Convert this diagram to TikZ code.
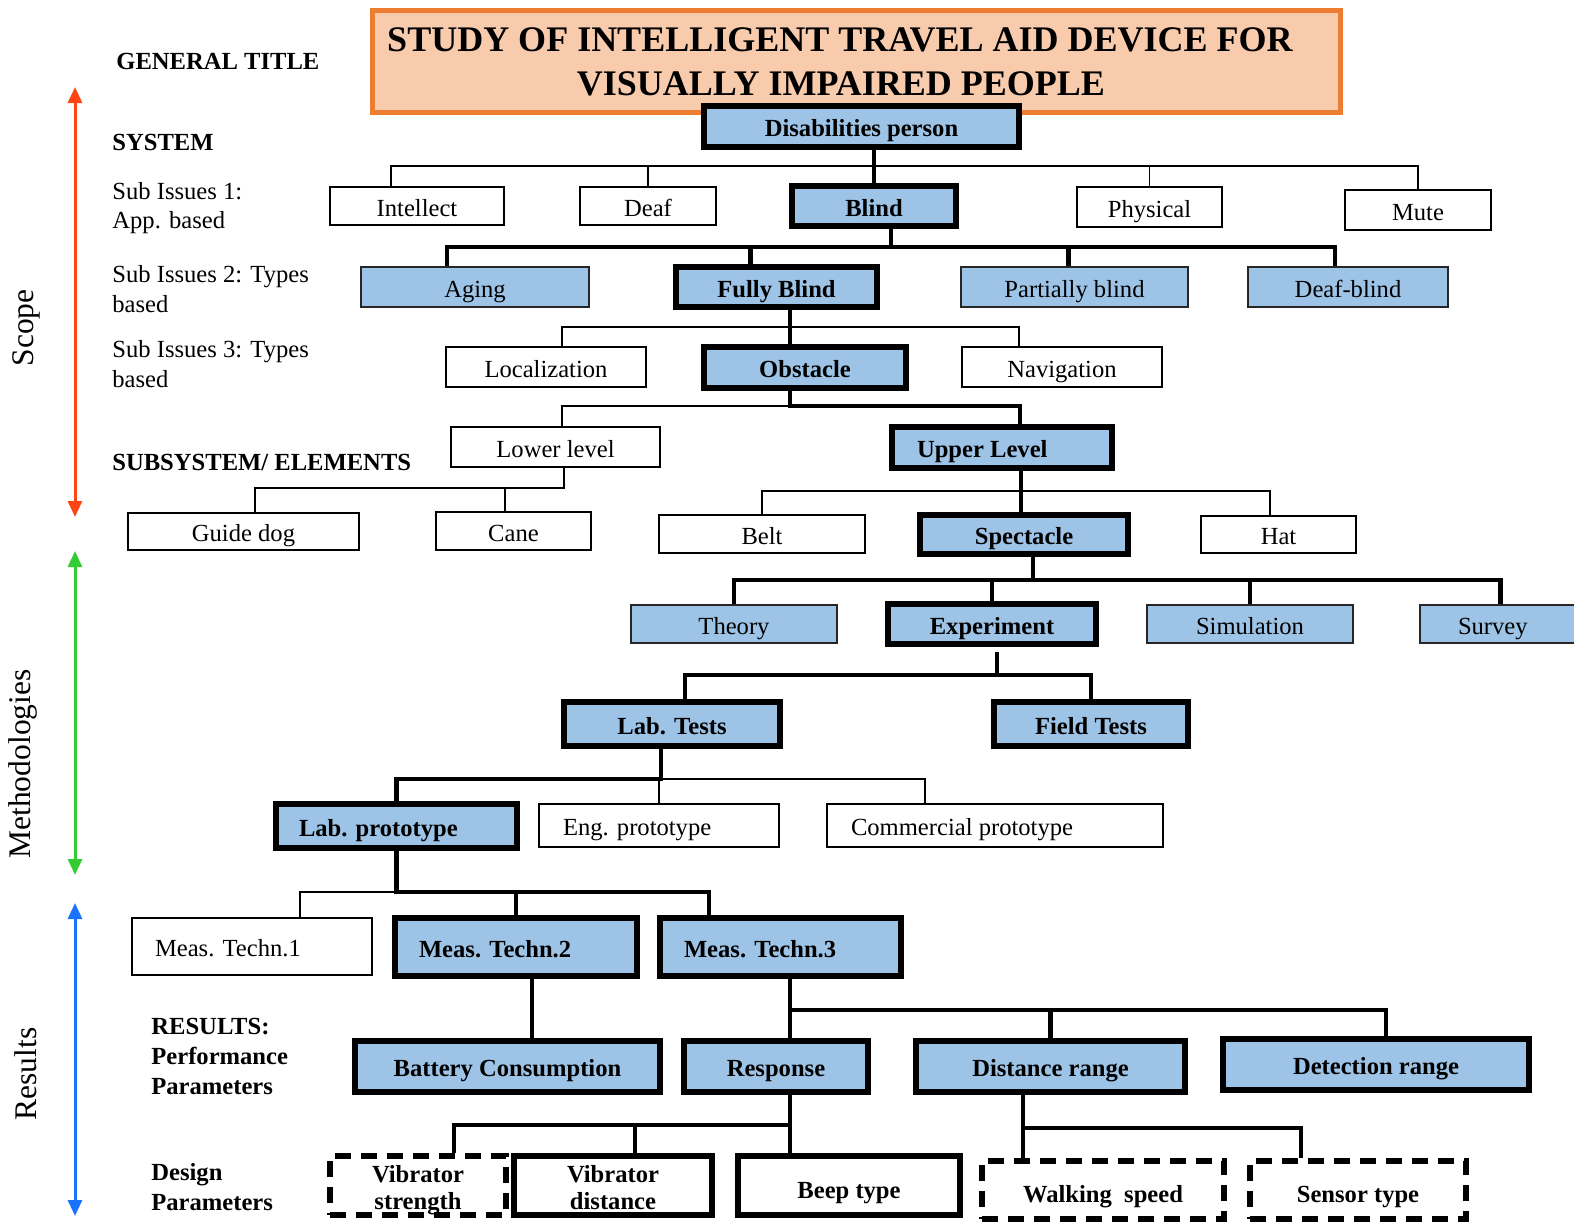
\documentclass[tikz,border=0pt]{standalone}
\usepackage{fontspec}
\setmainfont{Liberation Serif}
\usetikzlibrary{arrows.meta}
\definecolor{boxblue}{HTML}{9DC3E6}
\definecolor{titlefill}{HTML}{F8CBAD}
\definecolor{titleedge}{HTML}{ED7D31}
\definecolor{scopered}{HTML}{FF4513}
\definecolor{methgreen}{HTML}{33CC33}
\definecolor{resblue}{HTML}{1A73FF}
% left-aligned label inside a box of given width (pt) with a left pad (pt)
\newcommand{\padtext}[3]{\makebox[#1pt][l]{\hspace*{#2pt}#3}}
% two centred lines set low in their box, without changing the box size
\newcommand{\twolines}[2]{\raisebox{1.75pt}[0pt][0pt]{\makebox[0pt]{#1}}\raisebox{-11.9pt}[0pt][0pt]{\makebox[0pt]{#2}}}

\begin{document}
\begin{tikzpicture}[x=0.5pt,y=-0.5pt,
  % a box given by its left, top, right and bottom edges
  place/.style n args={4}{at={({(#1+#3)/2},{(#2+#4)/2})}, minimum width={(#3-#1)*0.5pt}, minimum height={(#4-#2)*0.5pt}},
  whitebox/.style={draw, inner sep=0pt, line width=0.9pt, font=\fontsize{12.3}{14}\selectfont, text height=10pt, text depth=0pt},
  softbox/.style={whitebox, fill=boxblue, draw=black!85, line width=0.8pt},
  keybox/.style={whitebox, fill=boxblue, draw=black, line width=2.8pt, font=\bfseries\fontsize{12.3}{14}\selectfont},
  designbox/.style={draw, inner sep=0pt, line width=2.6pt, font=\bfseries\fontsize{12.3}{13.5}\selectfont},
  dashbox/.style={designbox, dash pattern=on 8pt off 5pt},
  oneline/.style={text height=12.5pt, text depth=0pt},
  thinlink/.style={line width=0.8pt},
  boldlink/.style={line width=2.4pt},
  side/.style={anchor=base west, inner sep=0pt, font=\fontsize{12.3}{14}\selectfont},
  sidebold/.style={side, font=\bfseries\fontsize{12.3}{14}\selectfont},
  phase/.style={rotate=90, inner sep=0pt, font=\fontsize{15.75}{18}\selectfont},
  phasearrow/.style={line width=1.5pt, {Triangle[width=7pt,length=8pt]}-{Triangle[width=7pt,length=8pt]}},
]
\useasboundingbox (0,0) rectangle (1574,1226);
\clip (0,0) rectangle (1574,1226);

% ---- title ----
\node[place={372}{10}{1340}{112}, inner sep=0pt, draw=titleedge, fill=titlefill, line width=2.5pt] (titlebox) {};
\node[anchor=base, inner sep=0pt, font=\bfseries\fontsize{18}{22}\selectfont] (title1) at (840,51) {STUDY OF INTELLIGENT TRAVEL AID DEVICE FOR};
\node[anchor=base, inner sep=0pt, font=\bfseries\fontsize{18}{22}\selectfont] (title2) at (841,95) {VISUALLY IMPAIRED PEOPLE};

% ---- left-hand level labels ----
\node[sidebold] (lblgen) at (116,69) {GENERAL TITLE};
\node[sidebold] (lblsys) at (112,150) {SYSTEM};
\node[side] (lbla1) at (112,199) {Sub Issues 1:};
\node[side] (lbla2) at (112,228) {App. based};
\node[side] (lblb1) at (112,282) {Sub Issues 2: Types};
\node[side] (lblb2) at (112,312) {based};
\node[side] (lblc1) at (112,357) {Sub Issues 3: Types};
\node[side] (lblc2) at (112,387) {based};
\node[sidebold] (lblsub) at (112,470) {SUBSYSTEM/ ELEMENTS};
\node[sidebold] (lblr1) at (151,1034) {RESULTS:};
\node[sidebold] (lblr2) at (151,1064) {Performance};
\node[sidebold] (lblr3) at (151,1094) {Parameters};
\node[sidebold] (lbld1) at (151,1180) {Design};
\node[sidebold] (lbld2) at (151,1210) {Parameters};

% ---- phase arrows ----
\coordinate (scopeTop) at (75,87);
\coordinate (scopeBot) at (75,517);
\coordinate (methTop) at (75,551);
\coordinate (methBot) at (75,875);
\coordinate (resTop) at (75,903);
\coordinate (resBot) at (75,1216);
\draw[phasearrow, scopered] (scopeTop) -- (scopeBot);
\draw[phasearrow, methgreen] (methTop) -- (methBot);
\draw[phasearrow, resblue] (resTop) -- (resBot);
\node[phase] (scope) at (26,328) {Scope};
\node[phase] (meth) at (23,764) {Methodologies};
\node[phase] (results) at (26,1074) {Results};

% ---- tree boxes ----
\node[keybox, place={704}{106}{1019}{147}] (dis) {Disabilities person};
\node[whitebox, place={330}{187}{504}{225}] (intel) {Intellect};
\node[whitebox, place={580}{187}{716}{225}] (deaf) {Deaf};
\node[keybox, place={792}{186}{956}{226}] (blind) {Blind};
\node[whitebox, place={1077}{187}{1222}{227}] (phys) {Physical};
\node[whitebox, place={1345}{190}{1491}{230}] (mute) {Mute};
\node[softbox, place={361}{267}{589}{307}] (aging) {Aging};
\node[keybox, place={676}{267}{877}{307}] (fully) {Fully Blind};
\node[softbox, place={961}{267}{1188}{307}] (partial) {Partially blind};
\node[softbox, place={1248}{267}{1448}{307}] (deafblind) {Deaf-blind};
\node[whitebox, place={446}{347}{646}{387}] (local) {Localization};
\node[keybox, place={704}{347}{906}{388}] (obst) {Obstacle};
\node[whitebox, place={962}{347}{1162}{387}] (navig) {Navigation};
\node[whitebox, place={451}{427}{660}{467}] (lower) {Lower level};
\node[keybox, place={892}{427}{1112}{468}] (upper) {\padtext{110}{12.5}{Upper Level}};
\node[whitebox, place={128}{513}{359}{550}] (guide) {Guide dog};
\node[whitebox, place={436}{512}{591}{550}] (cane) {Cane};
\node[whitebox, place={659}{515}{865}{553}] (belt) {Belt};
\node[keybox, place={920}{515}{1128}{554}] (spect) {Spectacle};
\node[whitebox, place={1201}{516}{1356}{553}] (hat) {Hat};
\node[softbox, place={631}{605}{837}{643}] (theory) {Theory};
\node[keybox, place={888}{604}{1096}{644}] (exper) {Experiment};
\node[softbox, place={1147}{605}{1353}{643}] (simul) {Simulation};
\node[softbox, place={1420}{605}{1600}{643}] (survey) {\padtext{90}{19}{Survey}};
\node[keybox, place={564}{702}{780}{746}] (labt) {Lab. Tests};
\node[keybox, place={994}{702}{1188}{746}] (fieldt) {Field Tests};
\node[keybox, place={276}{804}{517}{848}] (labp) {\padtext{120.5}{11.5}{Lab. prototype}};
\node[whitebox, place={539}{804}{779}{847}] (engp) {\padtext{120}{12}{Eng. prototype}};
\node[whitebox, place={827}{804}{1163}{847}] (commp) {\padtext{168}{12}{Commercial prototype}};
\node[whitebox, place={132}{918}{372}{975}] (meas1) {\padtext{120}{11.5}{Meas. Techn.1}};
\node[keybox, place={395}{918}{637}{976}] (meas2) {\padtext{121}{12}{Meas. Techn.2}};
\node[keybox, place={660}{918}{901}{976}] (meas3) {\padtext{120.5}{12}{Meas. Techn.3}};
\node[keybox, place={355}{1041}{660}{1092}] (batt) {Battery Consumption};
\node[keybox, place={684}{1041}{868}{1092}] (resp) {Response};
\node[keybox, place={916}{1041}{1185}{1092}] (dist) {Distance range};
\node[keybox, place={1223}{1039}{1529}{1090}] (detect) {Detection range};
\node[dashbox, place={330}{1156}{506}{1215}] (vstr) {\twolines{Vibrator}{strength}};
\node[designbox, place={514}{1156}{712}{1215}] (vdist) {\twolines{Vibrator}{distance}};
\node[designbox, oneline, place={738}{1156}{960}{1215}] (beep) {Beep type};
\node[dashbox, oneline, place={982}{1161}{1224}{1219}] (walk) {Walking~ speed};
\node[dashbox, oneline, place={1250}{1161}{1466}{1219}] (sensor) {Sensor type};

% ---- bus levels ----
\coordinate (L1) at (0,166);
\coordinate (L2) at (0,247);
\coordinate (L3) at (0,327);
\coordinate (L4) at (0,406);
\coordinate (L5) at (0,488);
\coordinate (L6) at (0,491);
\coordinate (L7) at (0,580);
\coordinate (L8) at (0,675);
\coordinate (L9) at (0,779);
\coordinate (L10) at (0,892);
\coordinate (L11) at (0,1010);
\coordinate (L12) at (0,1125);
\coordinate (L13) at (0,1128);

% ---- attach points off the box centres ----
\coordinate (intelT) at ([xshift=-13pt]intel.north);
\coordinate (blindB) at ([xshift=8.5pt]blind.south);
\coordinate (agingT) at ([xshift=-14pt]aging.north);
\coordinate (fullyT) at ([xshift=-13pt]fully.north);
\coordinate (partT) at ([xshift=-3pt]partial.north);
\coordinate (dbT) at ([xshift=-6.5pt]deafblind.north);
\coordinate (fullyB) at ([xshift=6.75pt]fully.south);
\coordinate (localT) at ([xshift=8pt]local.north);
\coordinate (navT) at ([xshift=-21.5pt]navig.north);
\coordinate (obstB) at ([xshift=-7.5pt]obst.south);
\coordinate (lowerT) at ([xshift=3.25pt]lower.north);
\coordinate (upperT) at ([xshift=9pt]upper.north);
\coordinate (lowerB) at ([xshift=4.25pt]lower.south);
\coordinate (guideT) at ([xshift=5.75pt]guide.north);
\coordinate (caneT) at ([xshift=-4.25pt]cane.north);
\coordinate (upperB) at ([xshift=9.5pt]upper.south);
\coordinate (hatT) at ([xshift=-4.25pt]hat.north);
\coordinate (spectB) at ([xshift=4.5pt]spect.south);
\coordinate (survT) at ([xshift=40.5pt]survey.north west);
\coordinate (experB) at ([xshift=2.5pt,yshift=-2.5pt]exper.south);
\coordinate (labtT) at ([xshift=6.5pt]labt.north);
\coordinate (labtB) at ([xshift=-5.5pt]labt.south);
\coordinate (commT) at ([xshift=-35pt]commp.north);
\coordinate (meas1T) at ([xshift=24pt]meas1.north);
\coordinate (meas3T) at ([xshift=-35.75pt]meas3.north);
\coordinate (meas2B) at ([xshift=8pt]meas2.south);
\coordinate (meas3B) at ([xshift=4.75pt]meas3.south);
\coordinate (detT) at ([xshift=5pt]detect.north);
\coordinate (respB) at ([xshift=7pt]resp.south);
\coordinate (vstrT) at ([xshift=18pt]vstr.north);
\coordinate (vdistT) at ([xshift=11pt]vdist.north);
\coordinate (distB) at ([xshift=-13.75pt]dist.south);
\coordinate (sensT) at ([xshift=-28.5pt]sensor.north);

% ---- connectors ----
% Disabilities person
\draw[thinlink] (intelT) |- (L1 -| mute.north) -- (mute.north);
\draw[thinlink] (deaf.north) -- (deaf.north |- L1);
\draw[thinlink] (phys.north) -- (phys.north |- L1);
\draw[boldlink] (dis.south -| blind.north) -- (blind.north);
% Blind
\draw[boldlink] (agingT) |- (L2 -| dbT) -- (dbT);
\draw[boldlink] (blindB) -- (blindB |- L2);
\draw[boldlink] (fullyT) -- (fullyT |- L2);
\draw[boldlink] (partT) -- (partT |- L2);
% Fully blind
\draw[thinlink] (localT) |- (L3 -| navT) -- (navT);
\draw[boldlink] (fullyB) -- (fullyB |- obst.north);
% Obstacle
\draw[thinlink] (lowerT) |- (L4 -| obstB);
\draw[boldlink] (obstB) |- (L4 -| upperT) -- (upperT);
% Lower level
\draw[thinlink] (guideT) |- (L5 -| lowerB) -- (lowerB);
\draw[thinlink] (caneT) -- (caneT |- L5);
% Upper level
\draw[thinlink] (belt.north) |- (L6 -| hatT) -- (hatT);
\draw[boldlink] (upperB) -- (upperB |- spect.north);
% Spectacle
\draw[boldlink] (theory.north) |- (L7 -| survT) -- (survT);
\draw[boldlink] (spectB) -- (spectB |- L7);
\draw[boldlink] (exper.north) -- (exper.north |- L7);
\draw[boldlink] (simul.north) -- (simul.north |- L7);
% Experiment
\draw[boldlink] (labtT) |- (L8 -| fieldt.north) -- (fieldt.north);
\draw[boldlink] (experB) -- (experB |- L8);
% Lab. Tests
\draw[boldlink] (labp.north) |- (L9 -| labtB) -- (labtB);
\draw[thinlink] (L9 -| labtB) -| (commT);
\draw[thinlink] (engp.north) -- (engp.north |- L9);
% Lab. prototype
\draw[boldlink] (labp.south) |- (L10 -| meas3T) -- (meas3T);
\draw[thinlink] (meas1T) |- (L10 -| labp.south);
\draw[boldlink] (meas2.north) -- (meas2.north |- L10);
% measurement techniques
\draw[boldlink] (meas2B) -- (meas2B |- batt.north);
\draw[boldlink] (meas3B) -- (meas3B |- resp.north);
\draw[boldlink] (L11 -| meas3B) -| (detT);
\draw[boldlink] (dist.north) -- (dist.north |- L11);
% Response
\draw[boldlink] (respB) -- (respB |- beep.north);
\draw[boldlink] (vstrT) |- (L12 -| respB);
\draw[boldlink] (vdistT) -- (vdistT |- L12);
% Distance range
\draw[boldlink] (distB) -- (distB |- walk.north);
\draw[boldlink] (L13 -| distB) -| (sensT);
\end{tikzpicture}
\end{document}
